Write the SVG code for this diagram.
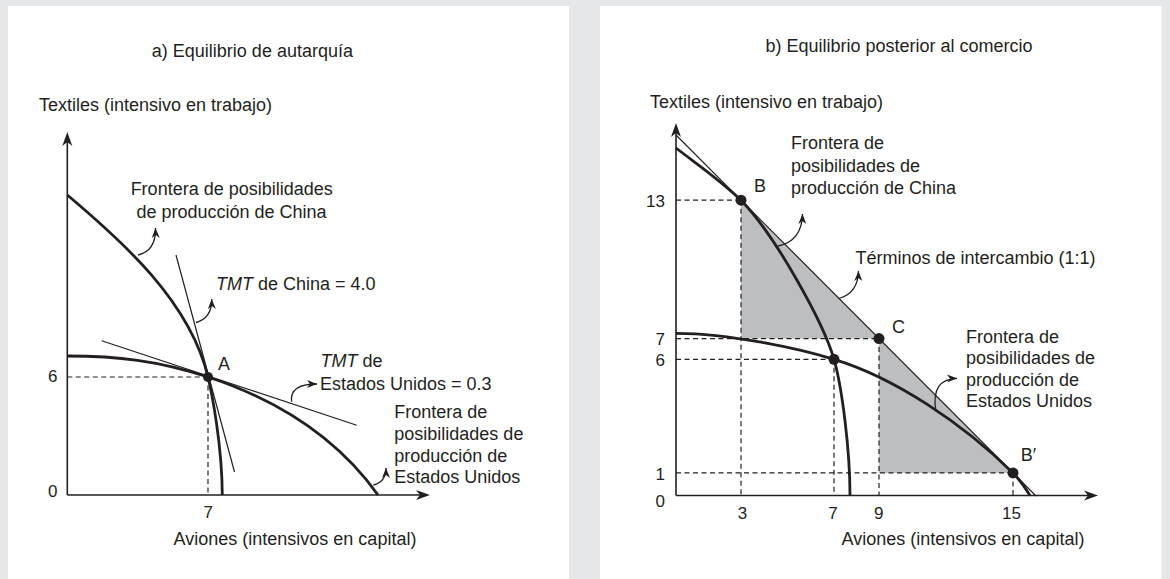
<svg xmlns="http://www.w3.org/2000/svg" width="1170" height="579" viewBox="0 0 1170 579">
<defs>
<style>
text { font-family: "Liberation Sans", Arial, sans-serif; font-size: 18px; fill: #231f20; }
.tick { font-size: 17px; }
.mid { text-anchor: middle; }
.end { text-anchor: end; }
.it { font-style: italic; }
.axis { stroke: #231f20; stroke-width: 1.6; fill: none; marker-end: url(#axh); }
.ppf { stroke: #231f20; stroke-width: 2.8; fill: none; }
.thin { stroke: #231f20; stroke-width: 1.2; fill: none; }
.dash { stroke: #231f20; stroke-width: 1.2; stroke-dasharray: 5 3.5; fill: none; }
.ann { stroke: #231f20; stroke-width: 1.3; fill: none; marker-end: url(#ah); }
.shade { fill: #bcbec0; }
.dot { fill: #231f20; }
</style>
<marker id="axh" markerUnits="userSpaceOnUse" viewBox="-7 -6 16 12" markerWidth="16" markerHeight="12" refX="0" refY="0" orient="auto">
<path d="M8,0 L-6,-5 L-2,0 L-6,5 Z" fill="#231f20"/>
</marker>
<marker id="ah" markerUnits="userSpaceOnUse" viewBox="-11 -5 12 10" markerWidth="12" markerHeight="10" refX="0" refY="0" orient="auto">
<path d="M0,0 L-10,-4 L-7,0 L-10,4 Z" fill="#231f20"/>
</marker>
</defs>
<rect x="0" y="0" width="1170" height="579" fill="#e6e7e8"/>
<rect x="8" y="6" width="561" height="580" fill="#ffffff"/>
<rect x="600" y="6" width="561.5" height="580" fill="#ffffff"/>

<g id="panel-a">
  <text class="mid" x="252.4" y="57.3">a) Equilibrio de autarquía</text>
  <text x="39" y="111">Textiles (intensivo en trabajo)</text>
  <text class="mid" x="295" y="545">Aviones (intensivos en capital)</text>
  <g id="a-axes">
    <path class="axis" d="M67.3,495 L67.3,140"/>
    <path class="axis" d="M67.3,495 L422,495"/>
  </g>
  <g id="a-dashes">
    <path class="dash" d="M67.3,377 H208"/>
    <path class="dash" d="M208,377 V495"/>
  </g>
  <g id="a-tangents">
    <path class="thin" d="M176,255 L234.5,472"/>
    <path class="thin" d="M101.7,340.7 L356.7,425.3"/>
  </g>
  <g id="a-ppf-china">
    <path class="ppf" d="M67.3,195 C122,241 190,301.4 208,377 C212,393.8 222,445 222.3,495"/>
  </g>
  <g id="a-ppf-us">
    <path class="ppf" d="M67.3,356 C117,356 158,360.5 208,377 C318,413.3 363,474 378,495"/>
  </g>
  <g id="a-point-A">
    <circle class="dot" cx="208" cy="377" r="5"/>
    <text x="218" y="370">A</text>
  </g>
  <g id="a-ticks">
    <text class="tick mid" x="52.7" y="382">6</text>
    <text class="tick mid" x="52.7" y="497">0</text>
    <text class="tick mid" x="208.3" y="518">7</text>
  </g>
  <g id="a-labels">
    <text class="mid" x="231.7" y="195">Frontera de posibilidades</text>
    <text class="mid" x="231.5" y="217.5">de producción de China</text>
    <text x="216" y="290"><tspan class="it">TMT</tspan> de China = 4.0</text>
    <text x="320.5" y="367"><tspan class="it">TMT</tspan> de</text>
    <text x="320" y="390">Estados Unidos = 0.3</text>
    <text x="394.3" y="418.3">Frontera de</text>
    <text x="394.3" y="440">posibilidades de</text>
    <text x="394.3" y="461.7">producción de</text>
    <text x="394.3" y="482.5">Estados Unidos</text>
  </g>
  <g id="a-connectors">
    <path class="ann" d="M138,255 Q156,251 155.5,228"/>
    <path class="ann" d="M196,322.5 Q212,318 211.7,299"/>
    <path class="ann" d="M291.7,401.7 Q289,384 317,384"/>
    <path class="ann" d="M373.3,485 Q386,482 386,468"/>
  </g>
</g>

<g id="panel-b">
  <text class="mid" x="899" y="52">b) Equilibrio posterior al comercio</text>
  <text x="650" y="108">Textiles (intensivo en trabajo)</text>
  <text class="mid" x="963" y="545">Aviones (intensivos en capital)</text>
  <g id="b-shading">
    <polygon class="shade" points="741,200.2 741,338.6 879,338.6"/>
    <polygon class="shade" points="879,338.6 879,472.9 1013,472.9"/>
  </g>
  <g id="b-axes">
    <path class="axis" d="M676,495.5 L676,131"/>
    <path class="axis" d="M676,495.5 L1090,495.5"/>
  </g>
  <g id="b-dashes">
    <path class="dash" d="M676,200.2 H741"/>
    <path class="dash" d="M741,200.2 V495.5"/>
    <path class="dash" d="M676,338.6 H879"/>
    <path class="dash" d="M879,338.6 V495.5"/>
    <path class="dash" d="M676,359.3 H834"/>
    <path class="dash" d="M834,359.3 V495.5"/>
    <path class="dash" d="M676,472.9 H1013"/>
    <path class="dash" d="M1013,472.9 V495.5"/>
  </g>
  <g id="b-terms-of-trade">
    <path class="thin" d="M676,135 L1036,496"/>
  </g>
  <g id="b-ppf-china">
    <path class="ppf" d="M676,148 C698,165 719,179 741,200.2 C776,236 824,324 834,359.3 C842,387 850,450 850,495.5"/>
  </g>
  <g id="b-ppf-us">
    <path class="ppf" d="M676,333.3 C730,333.3 800,349 834,359.3 C894,377.3 963,423.5 1013,472.9 C1019,479 1026,489 1030,495.5"/>
  </g>
  <g id="b-points">
    <circle class="dot" cx="741" cy="200.2" r="5.5"/>
    <circle class="dot" cx="834" cy="359.3" r="5.5"/>
    <circle class="dot" cx="879" cy="338.6" r="5.5"/>
    <circle class="dot" cx="1013" cy="472.9" r="5.5"/>
    <text x="754" y="192">B</text>
    <text x="892" y="333">C</text>
    <text x="1020.7" y="460.7">B′</text>
  </g>
  <g id="b-ticks">
    <text class="tick end" x="665" y="206.7">13</text>
    <text class="tick end" x="665" y="344.5">7</text>
    <text class="tick end" x="665" y="366">6</text>
    <text class="tick end" x="665" y="480">1</text>
    <text class="tick end" x="665" y="506.5">0</text>
    <text class="tick mid" x="742.5" y="519">3</text>
    <text class="tick mid" x="833" y="519">7</text>
    <text class="tick mid" x="878.7" y="519">9</text>
    <text class="tick mid" x="1011.5" y="519">15</text>
  </g>
  <g id="b-labels">
    <text x="791" y="149">Frontera de</text>
    <text x="791" y="171.5">posibilidades de</text>
    <text x="791" y="193.5">producción de China</text>
    <text x="855.5" y="263.5">Términos de intercambio (1:1)</text>
    <text x="966" y="342.7">Frontera de</text>
    <text x="966" y="364.2">posibilidades de</text>
    <text x="966" y="385.7">producción de</text>
    <text x="966" y="406.7">Estados Unidos</text>
  </g>
  <g id="b-connectors">
    <path class="ann" d="M778,246 Q802,241 802.5,214"/>
    <path class="ann" d="M839,298.5 Q858,293 858.5,271"/>
    <path class="ann" d="M935.7,410 Q931,379 957,378.3"/>
  </g>
</g>
</svg>
